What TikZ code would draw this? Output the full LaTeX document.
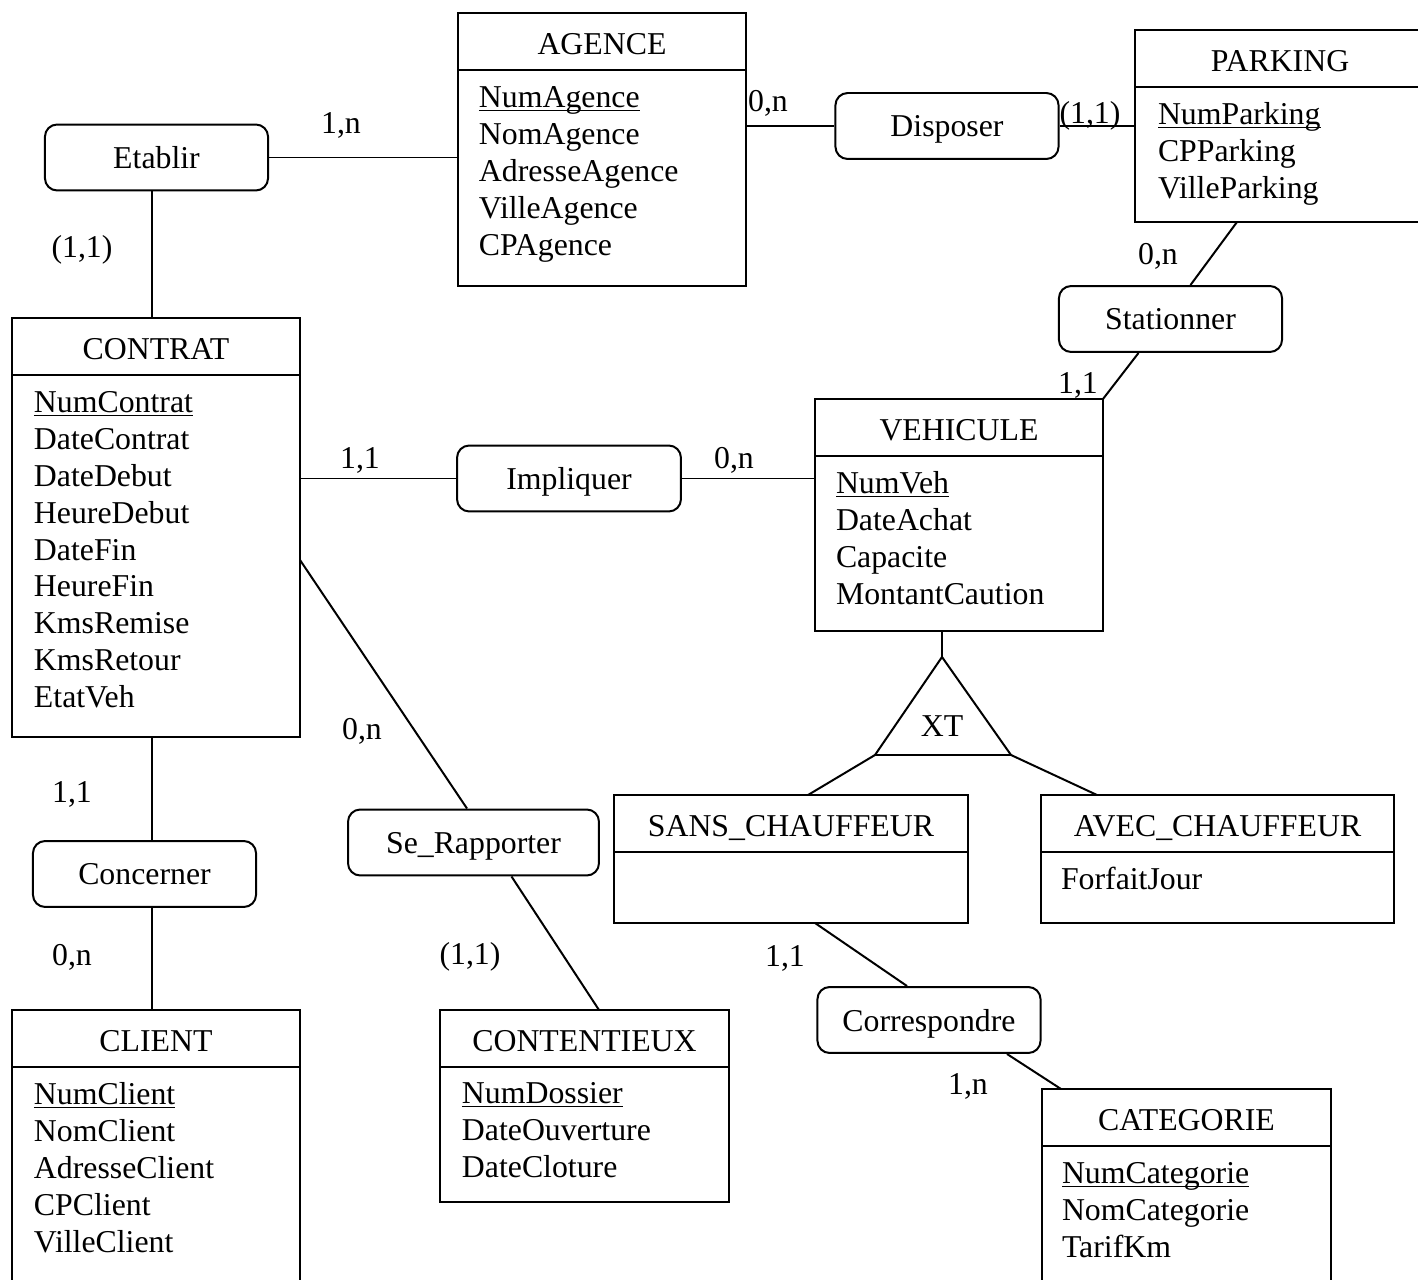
\documentclass[tikz,border=0pt]{standalone}
\usepackage{fontspec}
\setmainfont{Liberation Serif}
\usetikzlibrary{fit,calc}
\newsavebox\ulbox
\newcommand\ul[1]{\sbox\ulbox{#1}\rlap{\rule[-1.3pt]{\wd\ulbox}{0.65pt}}\usebox\ulbox}
\tikzset{
  txt/.style={inner sep=0pt, anchor=base, yshift=-0.7pt},
  entbox/.style={draw, inner sep=0pt, outer sep=0pt},
  entline/.style={},
  rel/.style={draw, rounded corners=4.6pt, minimum width=84.2pt, minimum height=24.9pt,
              inner sep=0pt, text height=10.5pt, text depth=2.2pt},
  card/.style={inner sep=0pt, anchor=base, yshift=-0.7pt},
}
\newcommand\entity[7]{%
  \node[entbox, fit={(#2,#3) (#4,#5)}] (#1) {};
  \draw[entline] (#2,#6) -- (#4,#6);
  \node[txt] (#1-title) at ({(#2+#4)/2},{#3+39.5}) {#7};
}
\newcommand\attrs[4]{%
  \foreach \a [count=\i] in {#4} {\node[txt, anchor=base west] (#1-a\i) at (#2,{#3+(\i-1)*36.8}) {\a};}
}
\begin{document}
\begin{tikzpicture}[x=0.3774pt, y=-0.3774pt, line width=0.75pt, font=\fontsize{12}{13.87}\selectfont]
\useasboundingbox (0,0) rectangle (1418,1280);

% entities
\entity{agence}{458}{13}{746}{286}{70}{AGENCE}
\attrs{agence}{478}{106}{\ul{NumAgence},NomAgence,AdresseAgence,VilleAgence,CPAgence}

\entity{parking}{1135}{30}{1425}{222}{87}{PARKING}
\attrs{parking}{1157}{123}{\ul{NumParking},CPParking,VilleParking}

\entity{contrat}{12}{318}{300}{737}{375}{CONTRAT}
\attrs{contrat}{33}{411}{\ul{NumContrat},DateContrat,DateDebut,HeureDebut,DateFin,HeureFin,KmsRemise,KmsRetour,EtatVeh}

\entity{vehicule}{815}{399}{1103}{631}{456}{VEHICULE}
\attrs{vehicule}{835}{492}{\ul{NumVeh},DateAchat,Capacite,MontantCaution}

\entity{sans}{614}{795}{968}{923}{852}{SANS\_CHAUFFEUR}

\entity{avec}{1041}{795}{1394}{923}{852}{AVEC\_CHAUFFEUR}
\attrs{avec}{1060}{888}{ForfaitJour}

\entity{client}{12}{1010}{300}{1295}{1067}{CLIENT}
\attrs{client}{33}{1103}{\ul{NumClient},NomClient,AdresseClient,CPClient,VilleClient}

\entity{contentieux}{440}{1010}{729}{1202}{1067}{CONTENTIEUX}
\attrs{contentieux}{461}{1102}{\ul{NumDossier},DateOuverture,DateCloture}

\entity{categorie}{1042}{1089}{1331}{1295}{1146}{CATEGORIE}
\attrs{categorie}{1061}{1182}{\ul{NumCategorie},NomCategorie,TarifKm}

% relationships
\node[rel] (etablir) at (156.5,157.5) {Etablir};
\node[rel] (disposer) at (947,126) {Disposer};
\node[rel] (stationner) at (1170.5,319) {Stationner};
\node[rel, minimum width=84.5pt] (impliquer) at (569,478.5) {Impliquer};
\node[rel] (concerner) at (144.5,874) {Concerner};
\node[rel] (corresp) at (929,1020) {Correspondre};
\node[rel, minimum width=94.7pt] (serapp) at (473.5,842.5) {Se\_Rapporter};

% inheritance triangle
\coordinate (apex) at (942,657);
\coordinate (bl) at (875,755);
\coordinate (br) at (1011,755);
\draw (apex) -- (bl) -- (br) -- cycle;
\node[txt] (xt) at (942,735) {XT};

% connectors
\coordinate (cl) at (152,0);
\draw (etablir.east) -- (agence.west |- etablir.east);
\draw (cl |- etablir.south) -- (cl |- contrat.north);
\draw (agence.east |- disposer.west) -- (disposer.west);
\draw (disposer.east) -- (parking.west |- disposer.east);
\draw ($(parking.south west)+(102,0)$) -- ($(stationner.north)+(20,0)$);
\draw ($(stationner.south)+(-32,0)$) -- (vehicule.north east);
\draw (contrat.east |- impliquer.west) -- (impliquer.west);
\draw (impliquer.east) -- (vehicule.west |- impliquer.east);
\draw ($(contrat.north east)+(0,242)$) -- ($(serapp.north)+(-6.5,0)$);
\draw ($(serapp.south)+(38,0)$) -- ($(contentieux.north west)+(159,0)$);
\draw (cl |- contrat.south) -- (cl |- concerner.north);
\draw (cl |- concerner.south) -- (cl |- client.north);
\draw (apex |- vehicule.south) -- (apex);
\draw (bl) -- ($(sans.north west)+(194,0)$);
\draw (br) -- ($(avec.north west)+(56,0)$);
\draw ($(sans.south west)+(201,0)$) -- ($(corresp.north)+(-22,0)$);
\draw ($(corresp.south)+(78,0)$) -- ($(categorie.north west)+(19,0)$);

% cardinalities
\node[card] (c1) at (341,132) {1,n};
\node[card] (c2) at (82,256) {(1,1)};
\node[card] (c3) at (768,110) {0,n};
\node[card] (c4) at (1090,122) {(1,1)};
\node[card] (c5) at (1158,263) {0,n};
\node[card] (c6) at (1078,392) {1,1};
\node[card] (c7) at (360,467) {1,1};
\node[card] (c8) at (734,467) {0,n};
\node[card] (c9) at (362,738) {0,n};
\node[card] (c10) at (72,801) {1,1};
\node[card] (c11) at (72,964) {0,n};
\node[card] (c12) at (470,963) {(1,1)};
\node[card] (c13) at (785,965) {1,1};
\node[card] (c14) at (968,1093) {1,n};
\end{tikzpicture}
\end{document}
